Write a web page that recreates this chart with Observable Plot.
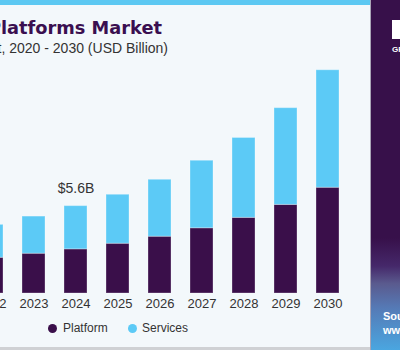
<!DOCTYPE html>
<html><head><meta charset="utf-8">
<script src="https://cdn.jsdelivr.net/npm/d3@7"></script>
<script src="https://cdn.jsdelivr.net/npm/@observablehq/plot@0.6"></script>
<style>
html,body{margin:0;padding:0;width:400px;height:350px;overflow:hidden;background:#f3f8fb;}
#page{position:relative;width:400px;height:350px;overflow:hidden;background:#f3f8fb;font-family:"Liberation Sans",Arial,sans-serif;}
.stripe{position:absolute;left:0;top:0;width:371px;height:5px;background:#5cc8f2;}
.bottomline{position:absolute;left:0;top:347px;width:371px;height:3px;background:#cfd1d4;}
.title{position:absolute;right:238px;top:19px;font-family:"DejaVu Sans",sans-serif;font-weight:bold;font-size:17.8px;line-height:1;color:#3a0f50;white-space:nowrap;}
.subtitle{position:absolute;right:232px;top:40px;font-size:14px;line-height:16px;color:#333;white-space:nowrap;}
#chart{position:absolute;left:-123px;top:59px;}
.leg{position:absolute;top:320px;font-size:12px;line-height:16px;color:#333;white-space:nowrap;}
.dot{position:absolute;width:9.4px;height:9.4px;border-radius:50%;top:323.6px;}
.panel{position:absolute;left:370px;top:0;width:30px;height:350px;border-left:1px solid #a9a4b6;
 background:linear-gradient(to bottom,#37104a 0%,#37104a 68%,#45286a 76%,#5a5a8e 81%,#557ab6 88%,#4aa6e0 100%);}
.logo{position:absolute;left:392px;top:20px;width:8px;height:19px;background:#fff;}
.g{position:absolute;left:392px;top:45px;font-size:8px;font-weight:bold;color:#fff;}
.src{position:absolute;left:383px;top:309px;font-size:11px;font-weight:bold;color:#fff;white-space:nowrap;line-height:14px;}
</style></head>
<body><div id="page">
<div class="stripe"></div>
<div class="title">Platforms Market</div>
<div class="subtitle">Market Size, by Component, 2020 - 2030 (USD Billion)</div>
<div id="chart"></div>
<div class="dot" style="left:47.6px;background:#3a0f4a"></div>
<div class="leg" style="left:63px">Platform</div>
<div class="dot" style="left:127.6px;background:#5ccaf6"></div>
<div class="leg" style="left:142px">Services</div>
<div class="bottomline"></div>
<div class="panel"></div>
<div class="logo"></div>
<div class="g">GRAND</div>
<div class="src">Source:<br>www.grandviewresearch.com</div>
</div>
<script>
const years = ["2020","2021","2022","2023","2024","2025","2026","2027","2028","2029","2030"];
const dataYears = ["2022","2023","2024","2025","2026","2027","2028","2029","2030"];
const platform = [2.29,2.55,2.83,3.19,3.64,4.18,4.85,5.68,6.78];
const services = [2.11,2.38,2.77,3.14,3.65,4.33,5.12,6.20,7.53];
const segments = ["Platform","Services"];
const colors = ["#3a0f4a","#5ccaf6"];
const labelYear = "2024";
const labelText = "$5.6B";

const rows = dataYears.flatMap((y,i)=>[
  {year:y,segment:"Platform",value:platform[i]},
  {year:y,segment:"Services",value:services[i]}
]);
const totals = dataYears.map((y,i)=>({year:y,total:platform[i]+services[i]}));

const chart = Plot.plot({
  width:481, height:254, marginTop:0, marginBottom:20, marginLeft:0, marginRight:0,
  style:{background:"transparent", fontFamily:"'Liberation Sans', Arial, sans-serif", fontSize:"13px", color:"#333", overflow:"visible"},
  x:{domain:years, padding:0.45, label:null, tickSize:0, tickPadding:5},
  y:{domain:[0,15], axis:null},
  color:{domain:segments, range:colors},
  marks:[
    Plot.barY(rows,{x:"year", y:"value", fill:"segment", order:segments, stroke:"white", strokeOpacity:0.3, strokeWidth:1}),
    Plot.text(totals.filter(d=>d.year===labelYear),{x:"year", y:"total", text:()=>labelText, dy:-18, fontSize:14, fill:"#333"})
  ]
});
document.getElementById("chart").appendChild(chart);
</script>
</body></html>
